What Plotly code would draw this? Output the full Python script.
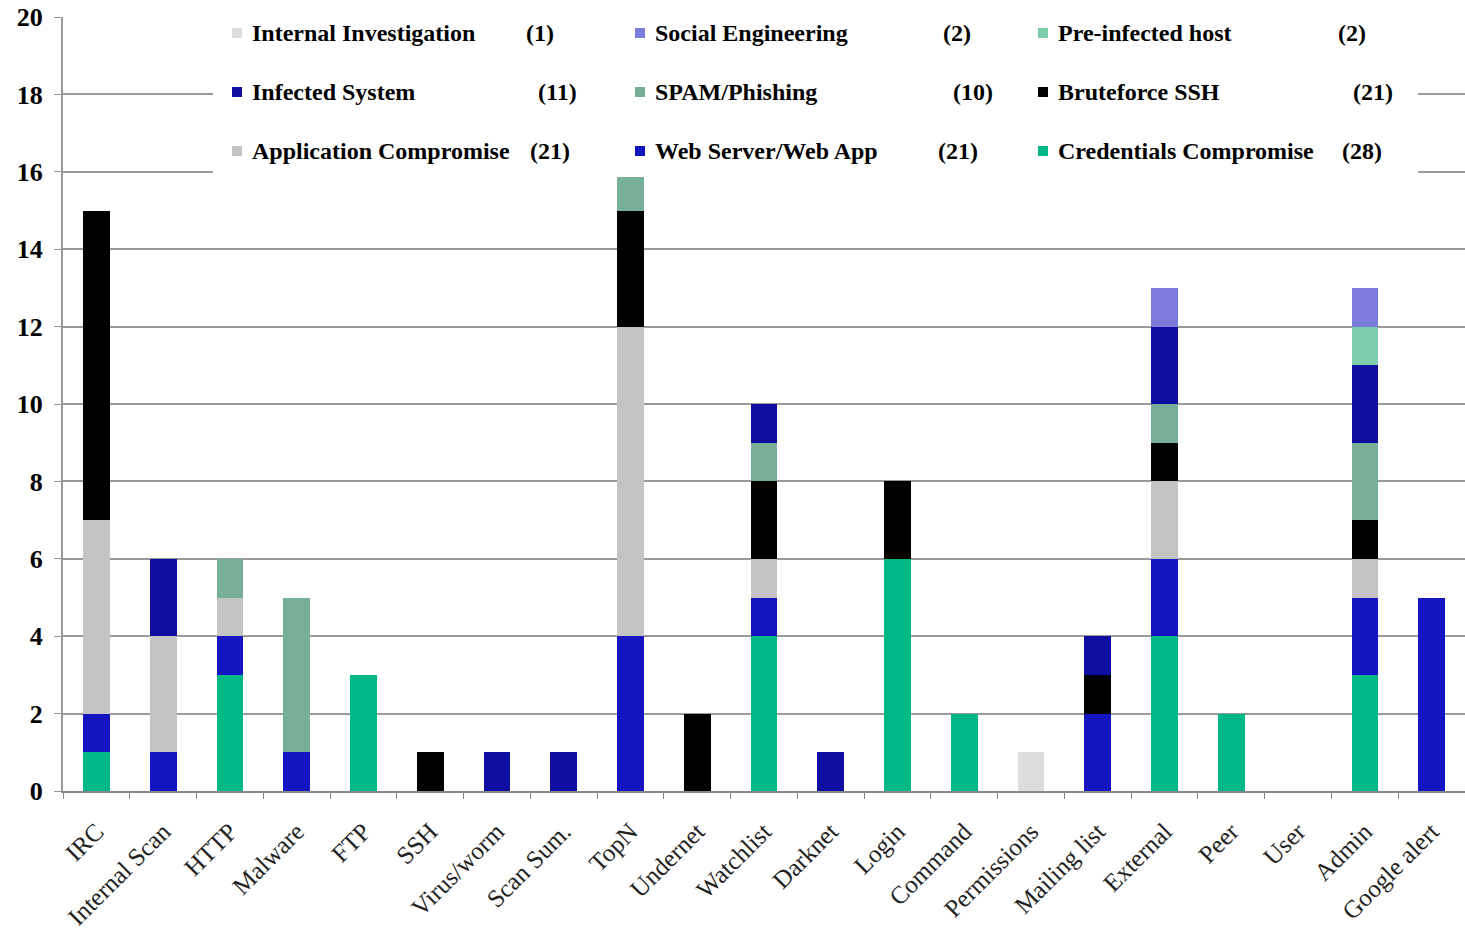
import plotly.graph_objects as go

# Incident sources (x axis)
categories = ["IRC", "Internal Scan", "HTTP", "Malware", "FTP", "SSH", "Virus/worm",
              "Scan Sum.", "TopN", "Undernet", "Watchlist", "Darknet", "Login", "Command",
              "Permissions", "Mailing list", "External", "Peer", "User", "Admin", "Google alert"]

# Incident counts per type, one value per source (stacked bottom to top)
credentials_compromise = [1, 0, 3, 0, 3, 0, 0, 0, 0, 0, 4, 0, 6, 2, 0, 0, 4, 2, 0, 3, 0]
web_server_web_app     = [1, 1, 1, 1, 0, 0, 0, 0, 4, 0, 1, 0, 0, 0, 0, 2, 2, 0, 0, 2, 5]
application_compromise = [5, 3, 1, 0, 0, 0, 0, 0, 8, 0, 1, 0, 0, 0, 0, 0, 2, 0, 0, 1, 0]
bruteforce_ssh         = [8, 0, 0, 0, 0, 1, 0, 0, 3, 2, 2, 0, 2, 0, 0, 1, 1, 0, 0, 1, 0]
spam_phishing          = [0, 0, 1, 4, 0, 0, 0, 0, 1, 0, 1, 0, 0, 0, 0, 0, 1, 0, 0, 2, 0]
infected_system        = [0, 2, 0, 0, 0, 0, 1, 1, 0, 0, 1, 1, 0, 0, 0, 1, 2, 0, 0, 2, 0]
pre_infected_host      = [0, 0, 0, 0, 0, 0, 0, 0, 0, 0, 0, 0, 0, 0, 0, 0, 0, 0, 0, 1, 0]
social_engineering     = [0, 0, 0, 0, 0, 0, 0, 0, 0, 0, 0, 0, 0, 0, 0, 0, 1, 0, 0, 1, 0]
internal_investigation = [0, 0, 0, 0, 0, 0, 0, 0, 0, 0, 0, 0, 0, 0, 1, 0, 0, 0, 0, 0, 0]

# Legend entries (grid order, row by row) and their stated totals
legend_names = ["Internal Investigation", "Social Engineering", "Pre-infected host",
                "Infected System", "SPAM/Phishing", "Bruteforce SSH",
                "Application Compromise", "Web Server/Web App", "Credentials Compromise"]
legend_counts = [1, 2, 2, 11, 10, 21, 21, 21, 28]

y_ticks = [0, 2, 4, 6, 8, 10, 12, 14, 16, 18, 20]

series = {
    "Credentials Compromise": credentials_compromise,
    "Web Server/Web App": web_server_web_app,
    "Application Compromise": application_compromise,
    "Bruteforce SSH": bruteforce_ssh,
    "SPAM/Phishing": spam_phishing,
    "Infected System": infected_system,
    "Pre-infected host": pre_infected_host,
    "Social Engineering": social_engineering,
    "Internal Investigation": internal_investigation,
}

colors = {
    "Credentials Compromise": "#00B887",
    "Web Server/Web App": "#1414C0",
    "Application Compromise": "#C4C4C4",
    "Bruteforce SSH": "#000000",
    "SPAM/Phishing": "#78AF99",
    "Infected System": "#0E0EA0",
    "Pre-infected host": "#7CCDAC",
    "Social Engineering": "#7B7BD9",
    "Internal Investigation": "#DCDCDC",
}

SERIF = "Liberation Serif, Times New Roman, serif"

fig = go.Figure()
for name, vals in series.items():
    fig.add_trace(go.Bar(
        x=categories, y=vals, name=name,
        marker=dict(color=colors[name], line=dict(width=0)),
        showlegend=False,
    ))

# Plot-area geometry in pixels, used to place the legend block
W, H = 1465, 934
PL, PR, PT, PB = 63, 1465, 17, 791


def px_x(px):
    return (px - PL) / (PR - PL)


def px_y(py):
    return (PB - py) / (PB - PT)


# White panel behind the legend grid
shapes = [dict(type="rect", xref="paper", yref="paper",
               x0=px_x(213), x1=px_x(1418), y0=px_y(177), y1=px_y(2),
               fillcolor="white", line=dict(width=0), layer="above")]
annotations = []

col_marker_x = [237, 640, 1043]
col_text_x = [250, 653, 1056]
row_y = [33, 92, 151]
count_x = [[540, 957, 1352], [557, 973, 1373], [550, 958, 1362]]

for i, (name, cnt) in enumerate(zip(legend_names, legend_counts)):
    r, c = divmod(i, 3)
    mx, my = col_marker_x[c], row_y[r]
    shapes.append(dict(type="rect", xref="paper", yref="paper",
                       x0=px_x(mx - 5), x1=px_x(mx + 5),
                       y0=px_y(my + 5), y1=px_y(my - 5),
                       fillcolor=colors[name], line=dict(width=0), layer="above"))
    annotations.append(dict(xref="paper", yref="paper", x=px_x(col_text_x[c]), y=px_y(my),
                            text=f"<b>{name}</b>", showarrow=False,
                            xanchor="left", yanchor="middle",
                            font=dict(family=SERIF, size=24, color="black")))
    annotations.append(dict(xref="paper", yref="paper", x=px_x(count_x[r][c]), y=px_y(my),
                            text=f"<b>({cnt})</b>", showarrow=False,
                            xanchor="center", yanchor="middle",
                            font=dict(family=SERIF, size=24, color="black")))

fig.update_layout(
    width=W, height=H,
    margin=dict(l=PL, r=W - PR, t=PT, b=H - PB),
    barmode="stack", bargap=0.6,
    plot_bgcolor="white", paper_bgcolor="white",
    showlegend=False,
    shapes=shapes, annotations=annotations,
    xaxis=dict(
        type="category", tickangle=-45, tickson="boundaries",
        ticks="outside", ticklen=6, tickcolor="#888",
        showline=True, linecolor="#888", linewidth=2,
        showgrid=False, ticklabelstandoff=14,
        tickfont=dict(family=SERIF, size=25, color="#222"),
    ),
    yaxis=dict(
        range=[0, 20], tickvals=y_ticks,
        ticktext=[f"<b>{v}</b>" for v in y_ticks],
        showgrid=True, gridcolor="#9A9A9A", gridwidth=2,
        showline=True, linecolor="#999", linewidth=2,
        ticks="outside", ticklen=7, tickcolor="#999",
        zeroline=False, ticklabelstandoff=6,
        tickfont=dict(family=SERIF, size=26, color="black"),
    ),
)

fig.write_html("out.html")
